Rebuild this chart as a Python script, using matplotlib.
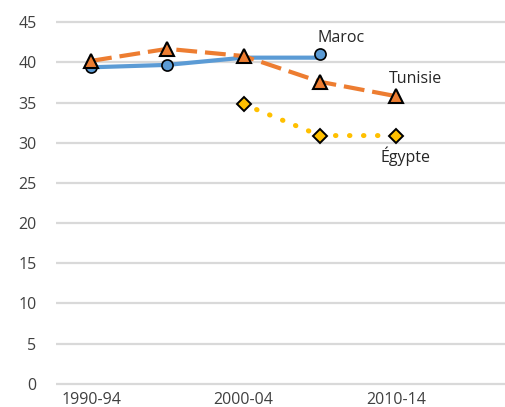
import matplotlib
matplotlib.use("Agg")
import matplotlib.pyplot as plt

plt.rcParams['font.family'] = ['Open Sans', 'DejaVu Sans']

categories = ["1990-94", "1995-99", "2000-04", "2005-09", "2010-14", "2015-19"]
tick_labels = ["1990-94", "", "2000-04", "", "2010-14", ""]

maroc_line = [39.4, 39.7, 40.6, 40.6]
maroc_marks = [39.4, 39.7, None, 41.1]
tunisie = [40.2, 41.7, 40.8, 37.6, 35.8]
egypte_idx = [2, 3, 4]
egypte = [34.8, 30.9, 30.9]

blue = "#5B9BD5"
orange = "#ED7D31"
gold = "#FFC000"
grid = "#D9D9D9"
text = "#404040"

fig = plt.figure(figsize=(5.06, 4.07), dpi=100)
ax = fig.add_axes([56 / 506, 0.0474, 450 / 506, 0.9076])
ax.set_xlim(-0.46, 5.44)
ax.set_ylim(-0.5, 45.5)

for v in range(0, 50, 5):
    ax.axhline(v, color=grid, lw=1.6, zorder=0)

# Egypte
ax.plot(egypte_idx, egypte, color=gold, lw=3.6, linestyle=(0, (0.1, 2.7)),
        dash_capstyle="round", zorder=2)
ax.plot(egypte_idx, egypte, linestyle="none", marker="D", ms=7,
        mfc=gold, mec="black", mew=1.4, zorder=5)

# Maroc
ax.plot(range(len(maroc_line)), maroc_line, color=blue, lw=3, zorder=3)
mx = [i for i, v in enumerate(maroc_marks) if v is not None]
my = [v for v in maroc_marks if v is not None]
ax.plot(mx, my, linestyle="none", marker="o", ms=8,
        mfc=blue, mec="black", mew=1.2, zorder=5)

# Tunisie
ax.plot(range(len(tunisie)), tunisie, color=orange, lw=3,
        linestyle=(0, (5, 1.9)), zorder=4)
ax.plot(range(len(tunisie)), tunisie, linestyle="none", marker="^", ms=10,
        mfc=orange, mec="black", mew=1.5, zorder=6)

lab_kw = dict(color="#262626", fontsize=11.5, va="center", ha="left")
ax.text(2.97, 43.0, "Maroc", **lab_kw)
ax.text(3.91, 38.0, "Tunisie", **lab_kw)
ax.text(3.8, 28.3, "Égypte", **lab_kw)

ax.set_xticks(range(len(categories)))
ax.set_xticklabels(tick_labels)
ax.set_yticks(range(0, 50, 5))
ax.tick_params(axis="both", length=0, labelsize=11.5, colors=text)
ax.tick_params(axis="y", pad=14)
ax.tick_params(axis="x", pad=3)
for s in ax.spines.values():
    s.set_visible(False)

fig.savefig("out.png", dpi=100)
